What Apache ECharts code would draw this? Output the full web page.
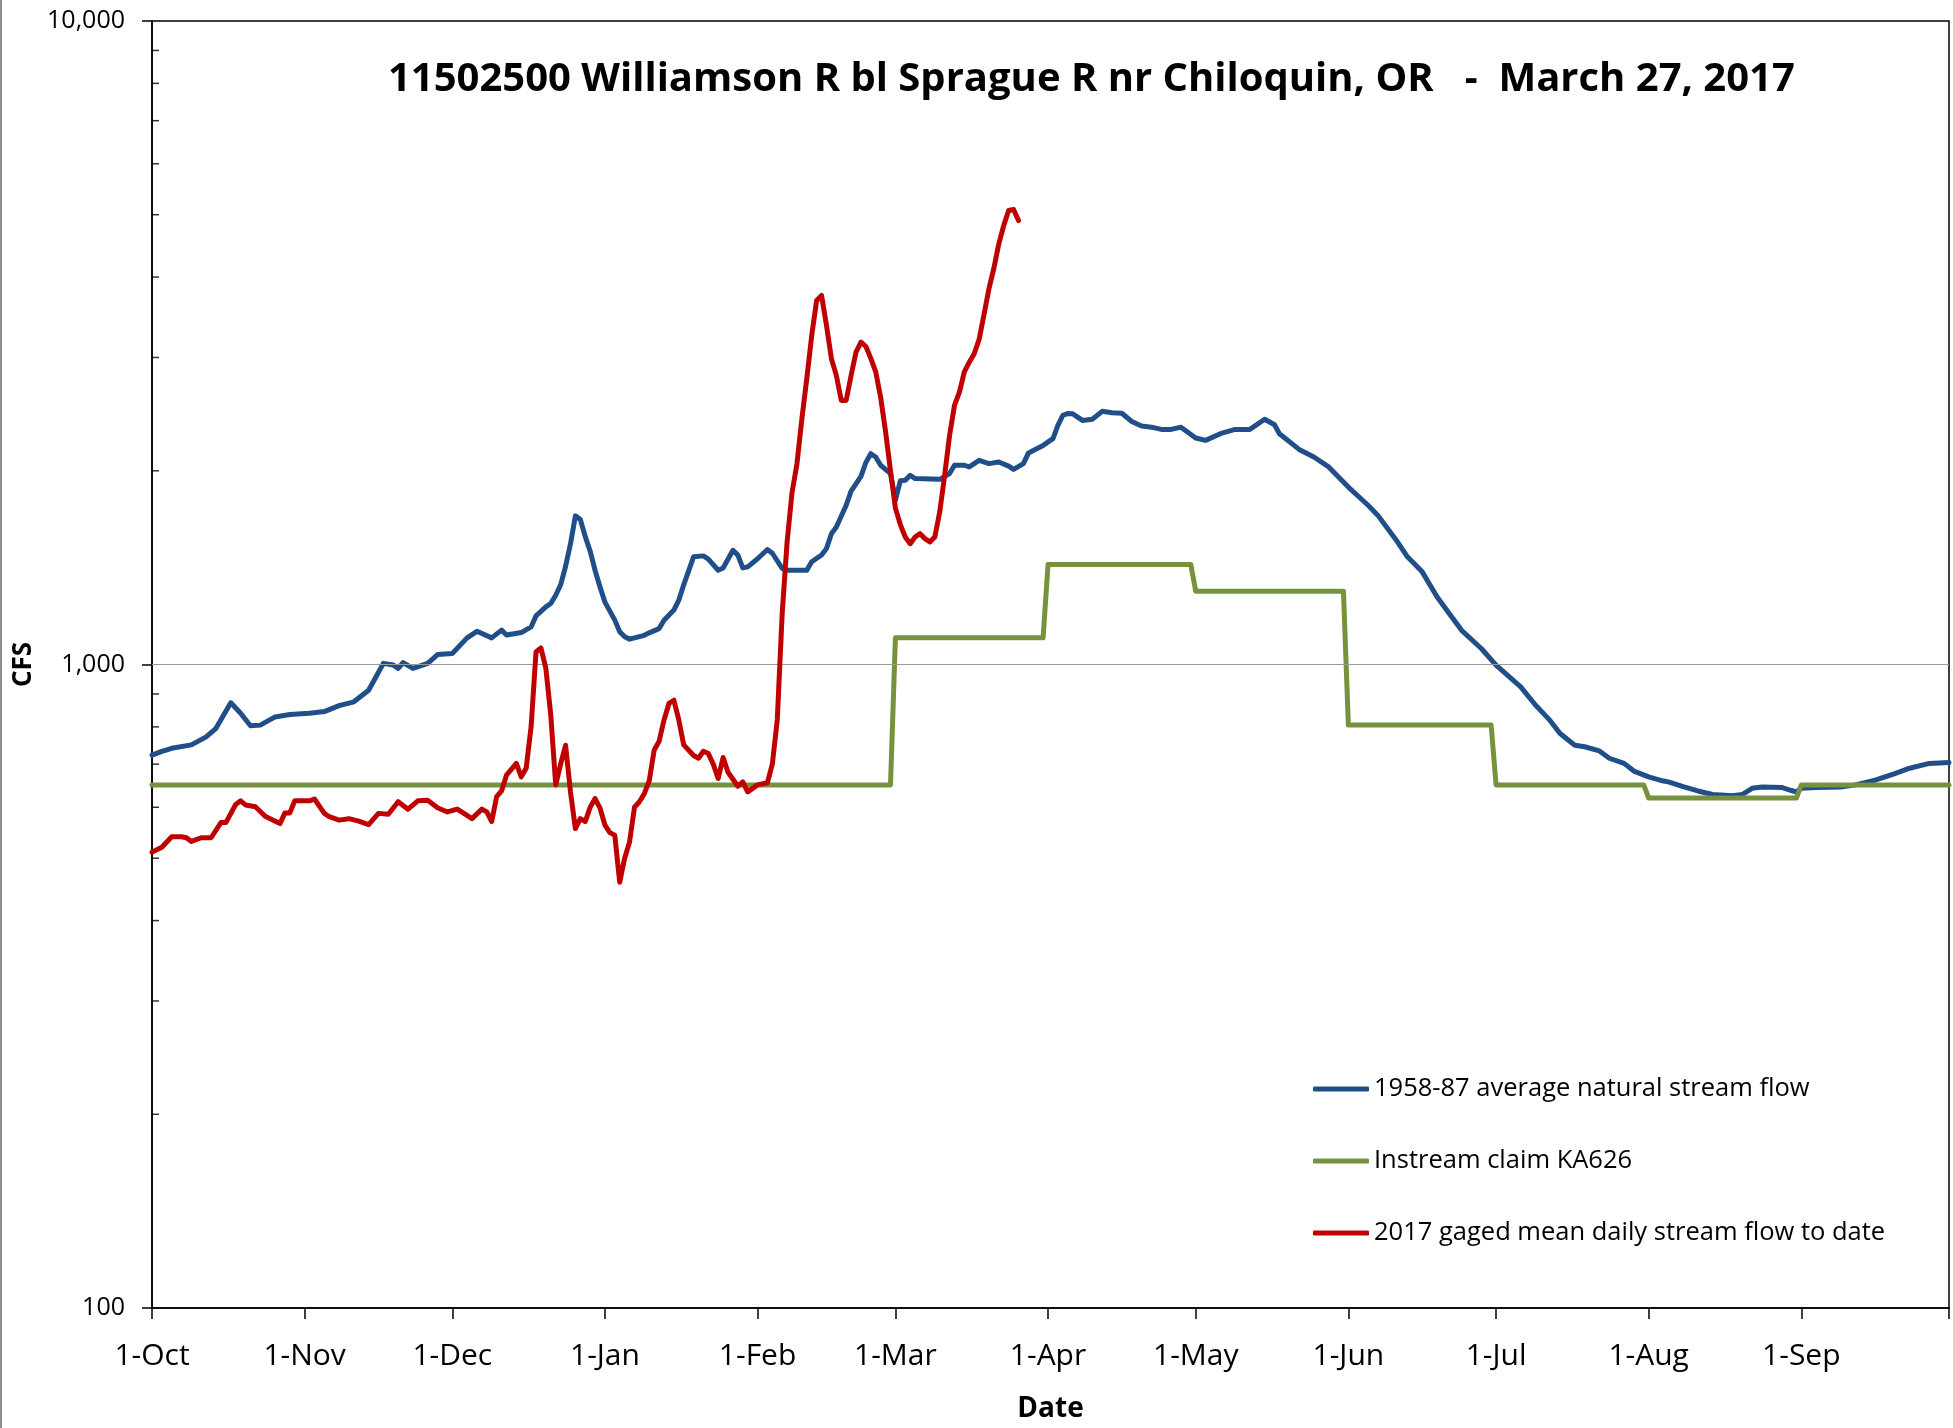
<!DOCTYPE html>
<html>
<head>
<meta charset="utf-8">
<script src="https://cdn.jsdelivr.net/npm/echarts@6/dist/echarts.min.js"></script>
<style>
html,body{margin:0;padding:0;background:#fff;}
#chart{width:1953px;height:1428px;}
</style>
</head>
<body>
<div id="chart"></div>
<script>
// Day index counted from 1-Oct-2016 (water year 2017)
const monthStartDays = [0, 31, 61, 92, 123, 151, 182, 212, 243, 273, 304, 335, 365];
const monthLabels = ['1-Oct', '1-Nov', '1-Dec', '1-Jan', '1-Feb', '1-Mar', '1-Apr', '1-May', '1-Jun', '1-Jul', '1-Aug', '1-Sep', ''];
const minorTickCfs = [200, 300, 400, 500, 600, 700, 800, 900, 2000, 3000, 4000, 5000, 6000, 7000, 8000, 9000];

const seriesNames = ['1958-87 average natural stream flow', 'Instream claim KA626', '2017 gaged mean daily stream flow to date'];

// 1958-87 average natural stream flow
const blueDay = [0, 2, 4, 8, 11, 13, 16, 18, 20, 22, 25, 28, 32, 35, 38, 41, 44, 47, 49, 50, 51, 53, 56, 58, 61, 64, 66, 69, 71, 72, 75, 77, 78, 80, 81, 82, 83, 84, 85, 86, 87, 88, 89, 90, 91, 92, 94, 95, 96, 97, 98, 100, 101, 103, 104, 106, 107, 108, 110, 112, 113, 115, 116, 118, 119, 120, 121, 123, 125, 126, 128, 129, 133, 134, 136, 137, 138, 139, 141, 142, 144, 145, 146, 147, 148, 150, 151, 152, 153, 154, 155, 160, 162, 163, 165, 166, 168, 170, 172, 174, 175, 177, 178, 179, 181, 183, 184, 185, 186, 187, 188, 189, 191, 193, 195, 197, 199, 201, 203, 205, 207, 209, 212, 214, 217, 220, 223, 226, 228, 229, 233, 236, 239, 243, 247, 249, 253, 255, 258, 261, 263, 266, 270, 273, 278, 281, 284, 286, 289, 291, 294, 296, 299, 301, 304, 307, 308, 311, 314, 317, 321, 323, 325, 327, 331, 333, 334, 335, 338, 343, 346, 350, 354, 357, 361, 365];
const blueCfs = [723, 733, 741, 750, 772, 796, 872, 840, 803, 805, 829, 836, 840, 845, 863, 875, 912, 1004, 998, 986, 1007, 986, 1004, 1036, 1040, 1100, 1126, 1100, 1131, 1111, 1121, 1144, 1190, 1229, 1244, 1281, 1330, 1420, 1540, 1702, 1680, 1580, 1500, 1400, 1320, 1250, 1172, 1124, 1104, 1095, 1100, 1110, 1120, 1137, 1172, 1215, 1259, 1330, 1470, 1475, 1458, 1401, 1412, 1505, 1479, 1413, 1418, 1460, 1509, 1489, 1410, 1401, 1401, 1444, 1480, 1514, 1597, 1636, 1768, 1860, 1960, 2060, 2126, 2101, 2040, 1980, 1800, 1930, 1933, 1968, 1945, 1940, 1980, 2040, 2040, 2028, 2076, 2052, 2064, 2034, 2010, 2052, 2130, 2151, 2190, 2244, 2353, 2438, 2455, 2453, 2424, 2395, 2405, 2474, 2462, 2457, 2386, 2347, 2338, 2319, 2319, 2338, 2249, 2230, 2284, 2319, 2319, 2405, 2358, 2284, 2159, 2101, 2028, 1887, 1768, 1705, 1550, 1470, 1393, 1274, 1214, 1130, 1059, 998, 923, 865, 818, 781, 749, 745, 734, 715, 702, 683, 669, 659, 657, 646, 636, 628, 625, 628, 642, 645, 644, 637, 634, 642, 644, 645, 650, 661, 677, 690, 702, 704];

// Instream claim KA626
const greenDay = [0, 150, 151, 181, 182, 211, 212, 242, 243, 272, 273, 303, 304, 334, 335, 365];
const greenCfs = [650, 650, 1100, 1100, 1430, 1430, 1300, 1300, 805, 805, 650, 650, 620, 620, 650, 650];

// 2017 gaged mean daily stream flow to date
const redDay = [0, 2, 4, 6, 7, 8, 10, 12, 14, 15, 17, 18, 19, 21, 23, 24, 26, 27, 28, 29, 32, 33, 35, 36, 38, 40, 42, 44, 46, 48, 50, 52, 54, 56, 58, 60, 62, 65, 67, 68, 69, 70, 71, 72, 74, 75, 76, 77, 78, 79, 80, 81, 82, 83, 84, 85, 86, 87, 88, 89, 90, 91, 92, 93, 94, 95, 96, 97, 98, 99, 100, 101, 102, 103, 104, 105, 106, 107, 108, 110, 111, 112, 113, 114, 115, 116, 117, 119, 120, 121, 123, 125, 126, 127, 128, 129, 130, 131, 132, 133, 134, 135, 136, 137, 138, 139, 140, 141, 142, 143, 144, 145, 146, 147, 148, 149, 150, 151, 152, 153, 154, 155, 156, 157, 158, 159, 160, 161, 162, 163, 164, 165, 166, 167, 168, 169, 170, 171, 172, 173, 174, 175, 176];
const redCfs = [511, 520, 540, 540, 538, 531, 538, 538, 568, 568, 606, 614, 605, 601, 581, 576, 566, 588, 588, 614, 614, 618, 587, 580, 573, 576, 571, 564, 587, 585, 612, 596, 614, 615, 599, 590, 596, 576, 596, 590, 570, 623, 636, 673, 702, 669, 690, 800, 1046, 1061, 986, 834, 650, 700, 749, 634, 556, 576, 570, 600, 619, 598, 563, 548, 543, 459, 500, 530, 600, 612, 630, 660, 736, 760, 820, 870, 880, 820, 750, 722, 715, 733, 727, 700, 665, 717, 680, 647, 657, 634, 650, 655, 700, 820, 1200, 1550, 1850, 2050, 2410, 2781, 3246, 3679, 3745, 3365, 2987, 2814, 2573, 2573, 2814, 3059, 3170, 3120, 2990, 2850, 2600, 2300, 2000, 1750, 1650, 1578, 1541, 1578, 1597, 1569, 1550, 1578, 1726, 1968, 2270, 2528, 2650, 2850, 2950, 3040, 3200, 3500, 3836, 4130, 4506, 4811, 5076, 5093, 4897];

const FONT = "'Open Sans', 'Noto Sans', sans-serif";
const dayCats = [];
for (let i = 0; i <= 365; i++) dayCats.push(String(i));
const zip = (xs, ys) => xs.map((x, i) => [x, ys[i]]);
const isMonthStart = (i) => monthStartDays.indexOf(Number(i)) >= 0;

const chart = echarts.init(document.getElementById('chart'), null, {renderer: 'canvas'});
const lineCommon = {type: 'line', showSymbol: false, symbol: 'none', animation: false, smooth: false};

chart.setOption({
  backgroundColor: '#fff',
  animation: false,
  title: {
    text: '11502500 Williamson R bl Sprague R nr Chiloquin, OR   -  March 27, 2017',
    left: 383, top: 55,
    textStyle: {fontFamily: FONT, fontWeight: 'bold', fontSize: 40, color: '#000'}
  },
  grid: {left: 152, right: 4, top: 21, bottom: 119, show: true, borderColor: '#000', borderWidth: 1.5, containLabel: false},
  legend: {
    data: seriesNames,
    orient: 'vertical', left: 1308, top: 1071,
    itemWidth: 56, itemHeight: 5, itemGap: 46, icon: 'roundRect',
    textStyle: {fontFamily: FONT, fontSize: 25.5, color: '#000'},
    selectedMode: false
  },
  xAxis: {
    type: 'category', data: dayCats, boundaryGap: false,
    axisLine: {show: true, lineStyle: {color: '#000', width: 1.5}},
    axisTick: {show: true, interval: (i) => isMonthStart(i), length: 11, inside: false, lineStyle: {color: '#000', width: 1.5}},
    axisLabel: {
      interval: (i) => isMonthStart(i),
      formatter: (v) => monthLabels[monthStartDays.indexOf(Number(v))] || '',
      fontFamily: FONT, fontSize: 30, color: '#000', margin: 33
    },
    splitLine: {show: false},
    name: 'Date', nameLocation: 'middle', nameGap: 87,
    nameTextStyle: {fontFamily: FONT, fontWeight: 'bold', fontSize: 28, color: '#000'}
  },
  yAxis: {
    type: 'log', logBase: 10, min: 100, max: 10000,
    axisLine: {show: true, lineStyle: {color: '#000', width: 1.5}},
    axisTick: {show: true, length: 10, inside: false, lineStyle: {color: '#000', width: 1.5}},
    axisLabel: {
      formatter: (v) => Math.round(v).toLocaleString('en-US'),
      fontFamily: FONT, fontSize: 25, color: '#000', margin: 27
    },
    splitLine: {show: false},
    name: 'CFS', nameLocation: 'middle', nameGap: 110,
    nameTextStyle: {fontFamily: FONT, fontWeight: 'bold', fontSize: 26, color: '#000'}
  },
  graphic: [{
    type: 'line', shape: {x1: 1, y1: 0, x2: 1, y2: 1428},
    style: {stroke: '#8c8c8c', lineWidth: 2}, silent: true
  }],
  series: [
    Object.assign({}, lineCommon, {
      name: seriesNames[0], data: zip(blueDay, blueCfs), color: '#1F4E88',
      lineStyle: {width: 5, color: '#1F4E88', cap: 'round', join: 'round'}, z: 3,
      markLine: {
        silent: true, symbol: 'none', animation: false,
        label: {show: false},
        lineStyle: {color: '#9a9a9a', width: 1.2, type: 'solid'},
        data: [{yAxis: 1000}]
      }
    }),
    Object.assign({}, lineCommon, {
      name: seriesNames[1], data: zip(greenDay, greenCfs), color: '#76923C',
      lineStyle: {width: 5, color: '#76923C', cap: 'round', join: 'round'}, z: 4
    }),
    Object.assign({}, lineCommon, {
      name: seriesNames[2], data: zip(redDay, redCfs), color: '#C00000',
      lineStyle: {width: 5, color: '#C00000', cap: 'round', join: 'round'}, z: 5
    }),
    {
      type: 'scatter', name: 'minor ticks', silent: true, animation: false, clip: false,
      data: minorTickCfs.map((v) => [0, v]),
      symbol: 'rect', symbolSize: [7, 1.5], symbolOffset: [3.5, 0],
      itemStyle: {color: '#000'}, z: 6
    }
  ]
});
</script>
</body>
</html>
